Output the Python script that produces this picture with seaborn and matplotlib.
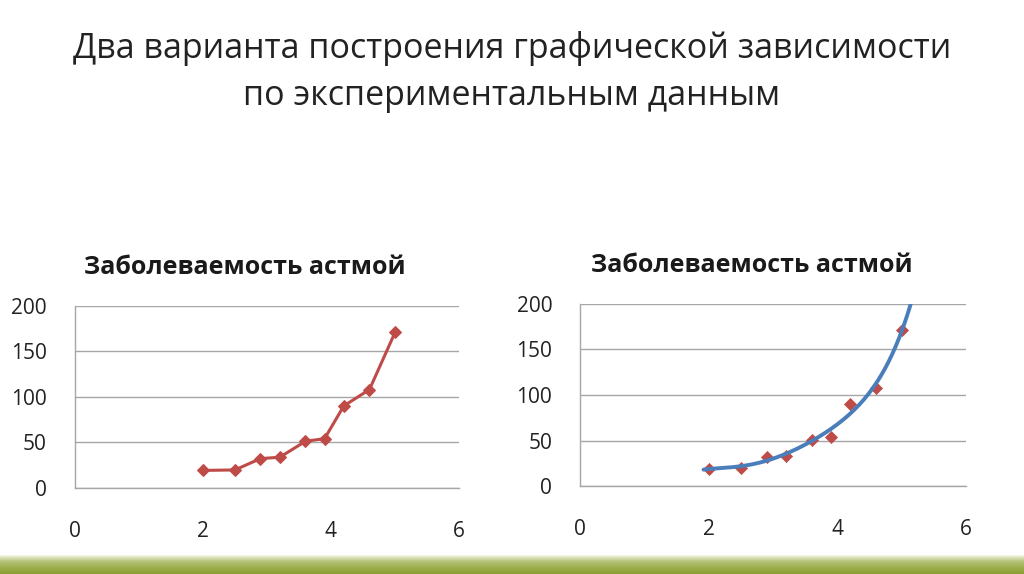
import numpy as np
import pandas as pd
import seaborn as sns
import matplotlib
matplotlib.use("Agg")
from matplotlib import pyplot as plt

# data
years = [2.0, 2.5, 2.9, 3.2, 3.6, 3.9, 4.2, 4.6, 5.0]
cases = [19, 19.5, 32, 33.5, 51, 54, 90, 108, 171]
x_ticks = [0, 2, 4, 6]
y_ticks = [0, 50, 100, 150, 200]

main_title = "Два варианта построения графической зависимости\nпо экспериментальным данным"
chart_title = "Заболеваемость астмой"

red = "#BE4B48"
blue = "#4A7EBB"
grid_gray = "#A6A6A6"

sns.set_style("white")
plt.rcParams["font.family"] = ["Open Sans", "DejaVu Sans"]

df = pd.DataFrame({"x": years, "y": cases})

# polynomial trend line fitted to the points
coef = np.polyfit(years, cases, 5)
xs = np.linspace(1.92, 5.2, 300)
trend = pd.DataFrame({"x": xs, "y": np.polyval(coef, xs)})

fig = plt.figure(figsize=(10.24, 5.74), dpi=100)

fig.text(0.5, 1 - 72 / 574, main_title, ha="center", va="center", fontsize=24.5,
         linespacing=1.5, color="#222222")


def style_axes(ax):
    ax.set_xlim(0, 6)
    ax.set_ylim(0, 200)
    ax.set_xticks(x_ticks)
    ax.set_yticks(y_ticks)
    ax.set_xlabel("")
    ax.set_ylabel("")
    for s in ["top", "right"]:
        ax.spines[s].set_visible(False)
    for s in ["left", "bottom"]:
        ax.spines[s].set_color(grid_gray)
        ax.spines[s].set_linewidth(1.0)
    ax.grid(axis="y", color=grid_gray, linewidth=1.0)
    ax.grid(axis="x", visible=False)
    ax.set_axisbelow(True)
    ax.tick_params(axis="both", direction="out", length=8, width=1.0,
                   color=grid_gray, labelsize=15, labelcolor="#222222")
    ax.tick_params(axis="x", pad=16)
    ax.tick_params(axis="y", pad=12)
    ax.set_facecolor("none")


ax1 = fig.add_axes([0.0729, 0.1504, 0.3755, 0.3165])
sns.lineplot(data=df, x="x", y="y", ax=ax1, color=red, linewidth=2.2,
             marker="D", markersize=6, markeredgecolor=red, clip_on=False)
style_axes(ax1)
fig.text(245 / 1024, 1 - 268 / 574, chart_title, ha="center", va="center",
         fontsize=18, fontweight="bold", color="#1a1a1a")

ax2 = fig.add_axes([0.5664, 0.1533, 0.3770, 0.3171])
sns.scatterplot(data=df, x="x", y="y", ax=ax2, color=red, marker="D", s=38,
                edgecolor=red, zorder=3)
sns.lineplot(data=trend, x="x", y="y", ax=ax2, color=blue, linewidth=2.8,
             zorder=4)
style_axes(ax2)
fig.text(752 / 1024, 1 - 266 / 574, chart_title, ha="center", va="center",
         fontsize=18, fontweight="bold", color="#1a1a1a")

# green bar at the bottom of the slide
bar_ax = fig.add_axes([0, 0, 1, 19 / 574])
grad = np.linspace(0, 1, 50).reshape(-1, 1)
cmap = matplotlib.colors.LinearSegmentedColormap.from_list(
    "slide", ["#8C9E32", "#9CAF4C", "#B5C27A", "#F4F7E4"])
bar_ax.imshow(grad, aspect="auto", cmap=cmap, extent=[0, 1, 0, 1],
              origin="lower")
bar_ax.set_axis_off()

fig.savefig("out.png", dpi=100)
